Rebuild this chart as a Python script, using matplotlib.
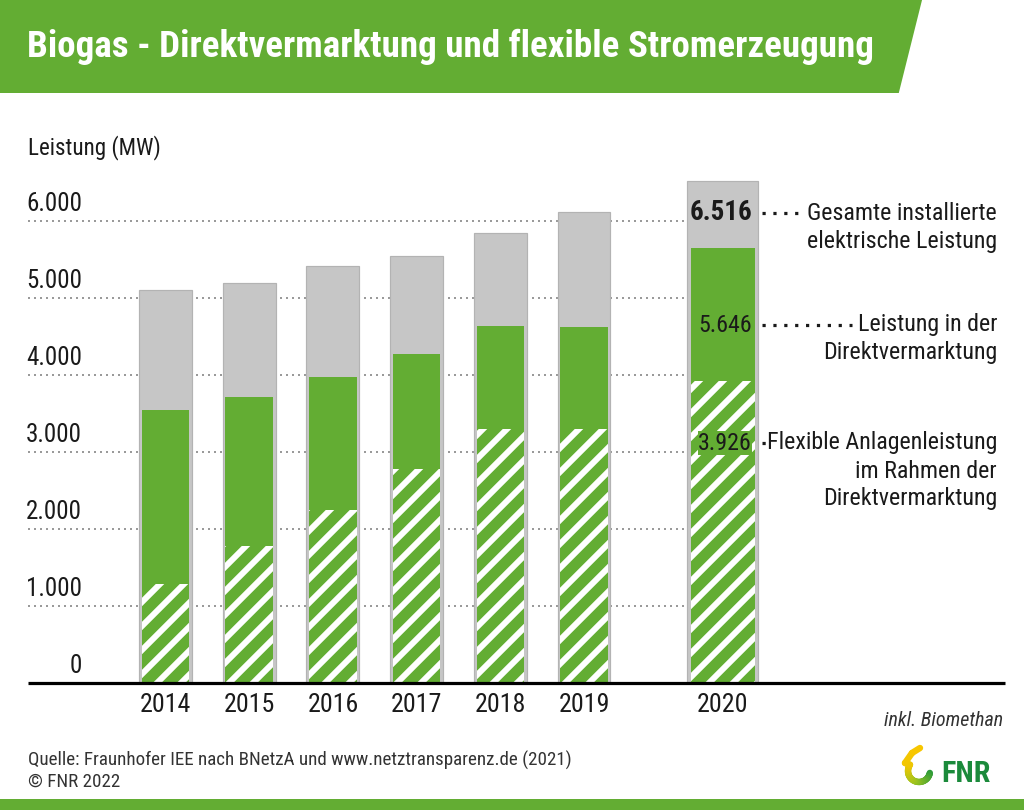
import numpy as np
import matplotlib.pyplot as plt
from matplotlib import font_manager as fm
from matplotlib.patches import Polygon, Rectangle
from matplotlib.lines import Line2D
from matplotlib.collections import LineCollection
from matplotlib.colors import LinearSegmentedColormap

# data (MW)
years = ['2014', '2015', '2016', '2017', '2018', '2019', '2020']
total = [5100, 5190, 5410, 5550, 5850, 6120, 6516]
direct = [3550, 3710, 3980, 4270, 4640, 4620, 5646]
flexible = [1280, 1775, 2250, 2775, 3295, 3295, 3926]
ticks = [0, 1000, 2000, 3000, 4000, 5000, 6000]
tick_labels = ['0', '1.000', '2.000', '3.000', '4.000', '5.000', '6.000']

GREEN = '#63ad33'
GRAY = '#c6c6c6'
TXT = '#1a1a1a'
W, H, DPI = 1024, 810, 144

# pick a narrow font if one is installed
ttf = fm.fontManager.ttflist
names = {f.name for f in ttf}
stretch = 'normal'
chosen = 'Roboto'
for cand in ['Liberation Sans Narrow', 'Roboto Condensed', 'Open Sans Condensed', 'DejaVu Sans Condensed']:
    if cand in names:
        chosen = cand
        break
else:
    if any(f.name == 'DejaVu Sans' and f.stretch == 'condensed' for f in ttf):
        chosen, stretch = 'DejaVu Sans', 'condensed'
    elif any(f.name == 'Roboto' and f.stretch == 'condensed' for f in ttf):
        chosen, stretch = 'Roboto', 'condensed'

plt.rcParams['font.family'] = [chosen, 'DejaVu Sans']
plt.rcParams['font.stretch'] = stretch
plt.rcParams['hatch.linewidth'] = 3.0

fig = plt.figure(figsize=(W / DPI, H / DPI), dpi=DPI)


def fx(px):
    return px / W


def fy(py):
    return 1 - py / H


# title banner + bottom stripe
fig.patches.append(Polygon([(fx(0), fy(0)), (fx(921), fy(0)), (fx(898), fy(92)), (fx(0), fy(92))],
                           closed=True, transform=fig.transFigure, color=GREEN, zorder=0))
fig.patches.append(Rectangle((0, 0), 1, 10 / H, transform=fig.transFigure, color=GREEN, zorder=0))
fig.text(fx(27), fy(47), 'Biogas - Direktvermarktung und flexible Stromerzeugung',
         color='white', fontsize=18.5, fontweight='bold', va='center', ha='left')

# axes: x in bar-index units, y in MW
x0, step = 165.5, 83.7
xl = ((28 - x0) / step, (1005 - x0) / step)
ax = fig.add_axes([fx(28), fy(683), fx(1005) - fx(28), (683 - 144) / H])
ax.set_xlim(*xl)
ax.set_ylim(0, 7000)
ax.axis('off')

pos = [0, 1, 2, 3, 4, 5, 6.66]
wide = [0.633] * 6 + [0.848]
narrow = [0.567] * 6 + [0.773]

grid_end = (760 - x0) / step
for t in ticks[1:]:
    ax.plot([xl[0], grid_end], [t, t], color='#9a9a9a', lw=1.0, ls=(0, (1, 2)), zorder=1)

ax.bar(pos, total, width=wide, color=GRAY, edgecolor='#b3b3b3', lw=0.6, zorder=2)
ax.bar(pos, direct, width=narrow, color=GREEN, lw=0, zorder=3)
ax.bar(pos, flexible, width=narrow, color=GREEN, edgecolor='white', hatch='//', lw=0, zorder=4)
ax.plot(xl, [0, 0], color='black', lw=1.6, zorder=5, solid_capstyle='butt', clip_on=False)

# y tick labels sit above the dotted lines
for t, lab in zip(ticks, tick_labels):
    fig.text(fx(82), fy(683 - t * 0.077 - 17), lab, ha='right', va='center', fontsize=12.5, color=TXT)

for p, y in zip(pos, years):
    fig.text(fx(x0 + step * p), fy(705), y, ha='center', va='center', fontsize=13, color=TXT)

fig.text(fx(28), fy(148), 'Leistung (MW)', ha='left', va='center', fontsize=11.5, color=TXT)

# value labels for 2020
fig.text(fx(752), fy(213), '6.516', ha='right', va='center', fontsize=13.5, fontweight='bold', color=TXT)
fig.text(fx(752), fy(325), '5.646', ha='right', va='center', fontsize=12, color=TXT)
fig.text(fx(752), fy(443), '3.926', ha='right', va='center', fontsize=12, color=TXT,
         bbox=dict(facecolor=GREEN, edgecolor='none', pad=0.1))

leaders = [(213, 800, ['Gesamte installierte', 'elektrische Leistung']),
           (325, 852, ['Leistung in der', 'Direktvermarktung']),
           (443, 772, ['Flexible Anlagenleistung', 'im Rahmen der', 'Direktvermarktung'])]
for yy, xe, lines in leaders:
    fig.add_artist(Line2D([fx(762), fx(xe)], [fy(yy), fy(yy)], transform=fig.transFigure,
                          color=TXT, lw=1.6, ls=(0, (1, 2.4))))
    for i, s in enumerate(lines):
        fig.text(fx(997), fy(yy + i * 28), s, ha='right', va='center', fontsize=12, color=TXT)

fig.text(fx(1003), fy(720), 'inkl. Biomethan', ha='right', va='center', fontsize=10,
         style='italic', color='#333333')
fig.text(fx(28), fy(760), 'Quelle: Fraunhofer IEE nach BNetzA und www.netztransparenz.de (2021)',
         ha='left', va='center', fontsize=9.5, color='#333333')
fig.text(fx(28), fy(782), '\u00a9 FNR 2022', ha='left', va='center', fontsize=9.5, color='#333333')

# rough FNR logo: swoosh from yellow to green, then the letters
fig.text(fx(991), fy(774), 'FNR', ha='right', va='center', fontsize=15, fontweight='bold', color='#1b8a3b')
ang = np.radians(np.linspace(-10, -215, 40))
px = list(919 + 11 * np.cos(ang)) + [905, 912, 920]
py = list(771 - 11 * np.sin(ang)) + [763, 753, 748]
pts = np.column_stack([fx(np.array(px)), fy(np.array(py))])
segs = np.stack([pts[:-1], pts[1:]], axis=1)
swoosh = LinearSegmentedColormap.from_list('sw', ['#2b9a3a', '#9cc31f', '#f7c600'])
lc = LineCollection(segs, cmap=swoosh, lw=3.2, transform=fig.transFigure, capstyle='round')
lc.set_array(np.linspace(0, 1, len(segs)))
fig.add_artist(lc)

fig.savefig('out.png', dpi=DPI)
